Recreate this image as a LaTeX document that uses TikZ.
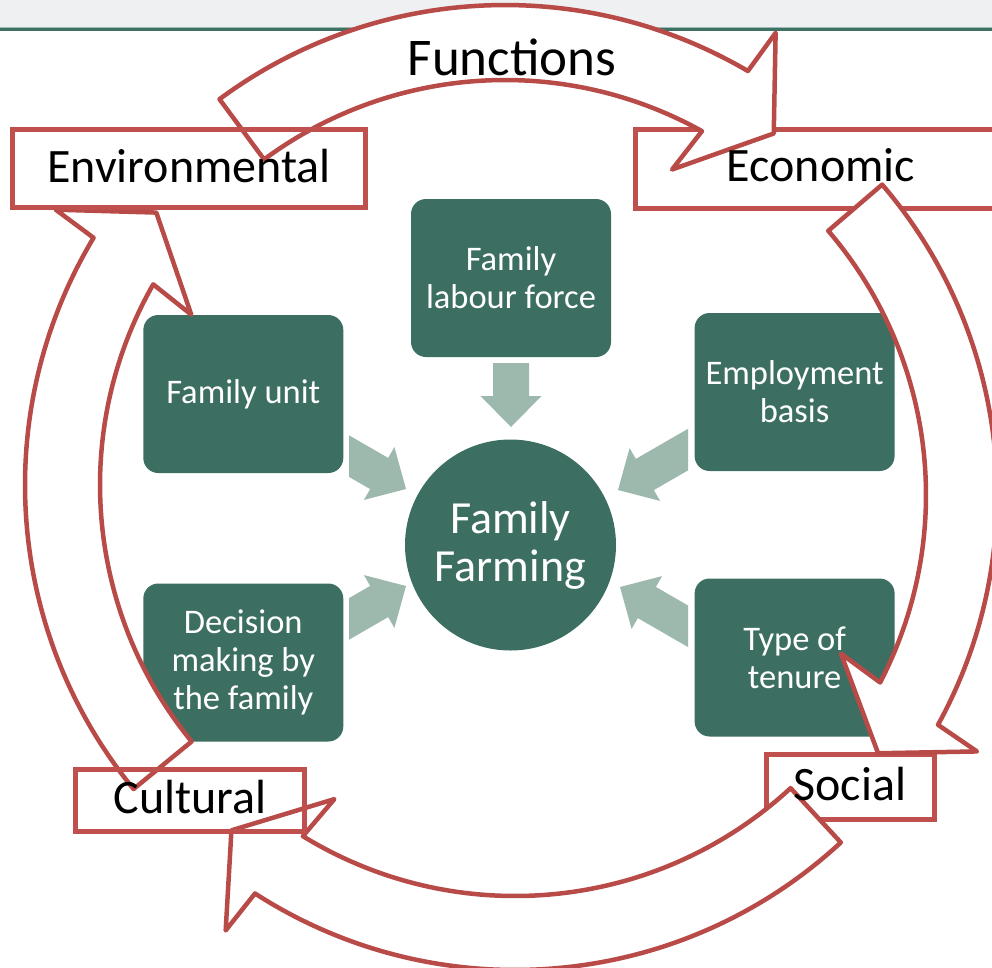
\documentclass[tikz,border=0pt]{standalone}
\usepackage{fontspec}
\setmainfont{Carlito}
\definecolor{ringred}{RGB}{184,74,71}
\definecolor{boxred}{RGB}{192,80,77}
\definecolor{boxgreen}{RGB}{60,111,98}
\definecolor{lightarrow}{RGB}{157,184,172}
\definecolor{bandgray}{RGB}{239,240,242}
\definecolor{bandline}{RGB}{61,113,100}
\definecolor{bandlight}{RGB}{160,185,178}
\tikzset{
  greenbox/.style={fill=boxgreen, rounded corners=15pt, minimum width=200pt, minimum height=158pt,
    text=white, align=center, font=\fontsize{34.5}{38}\selectfont, inner sep=0pt, outer sep=0pt},
  hubnode/.style={circle, fill=boxgreen, minimum size=211pt, text=white, align=center,
    font=\fontsize{46}{48}\selectfont, inner sep=0pt, outer sep=0pt},
  labelfill/.style={fill=white, inner sep=0pt, outer sep=0pt},
  labelbox/.style={draw=boxred, line width=5pt, fill=white, inner sep=0pt, outer sep=0pt},
  labelline/.style={draw=boxred, line width=5pt},
  labeltext/.style={font=\fontsize{48}{56}\selectfont, text=black, inner sep=0pt, anchor=base},
  ringarrow/.style={draw=ringred, line width=4.5pt, fill=white, line join=round},
  feedarrow/.style={fill=lightarrow},
}
% cx, cy, outer radius, inner radius, tail angle, head angle (pixel angles, clockwise)
\newcommand{\RingArrow}[6]{%
  \begin{scope}[shift={(#1,#2)}]
    \draw[ringarrow] (#5:#3) arc[start angle=#5, end angle=#6, radius=#3]
      -- ({#6+0.5}:{#3+47}) -- ({#6+7}:{(#3+#4)/2}) -- ({#6-2.5}:{#4-48})
      -- ({#6-1.3}:#4) arc[start angle={#6-1.3}, end angle=#5, radius=#4] -- cycle;
  \end{scope}}
% tip x, tip y, direction angle
\newcommand{\FeedArrow}[3]{%
  \begin{scope}[shift={(#1,#2)}, rotate=#3]
    \fill[feedarrow] (0,0) -- (-31,30.5) -- (-31,18) -- (-100,18) -- (-100,-18)
      -- (-31,-18) -- (-31,-30.5) -- cycle;
  \end{scope}}
\begin{document}
\begin{tikzpicture}[x=1pt,y=1pt,yscale=-1]
\useasboundingbox (0,0) rectangle (992,967);
\clip (0,0) rectangle (992,967);
% header band
\fill[bandgray] (0,0) rectangle (992,27);
\fill[bandlight] (0,26.5) rectangle (992,28);
\fill[bandline] (0,28) rectangle (992,31);

% green boxes and hub
\node[greenbox] (labour) at (511,278) {Family\\labour force};
\node[greenbox] (unit) at (243.3,394) {Family unit};
\node[greenbox] (employ) at (794.6,392) {Employment\\basis};
\node[greenbox] (decision) at (243.3,662.5) {Decision\\making by\\the family};
\node[greenbox] (tenure) at (794.6,657.5) {Type of\\tenure};
\node[hubnode] (hub) at (510.5,545) {Family\\Farming};

% feed arrows
\begin{scope}
  \clip (0,363) rectangle (992,967);
  \FeedArrow{511}{427}{90}
\end{scope}
\begin{scope}
  \clip (349,0) rectangle (500,967);
  \FeedArrow{406}{489}{30}
  \FeedArrow{406}{586}{-30}
\end{scope}
\begin{scope}
  \clip (520,0) rectangle (688,967);
  \FeedArrow{618}{490}{150}
  \FeedArrow{620}{587}{210}
\end{scope}

% label boxes (under arrows)
\node[labelbox, minimum width=376pt, minimum height=79pt] (econ) at (823.5,169) {};
\node[labelbox, minimum width=167.5pt, minimum height=65pt] (soc) at (850.3,787) {};
\node[labelfill, minimum width=353pt, minimum height=78pt] (env) at (189,168.5) {};
\node[labelfill, minimum width=229pt, minimum height=62pt] (cult) at (189.5,800.5) {};

% ring arrows
\RingArrow{505}{485}{480}{405}{233.5}{300.4}
\RingArrow{520}{495}{477}{406}{319.4}{388.8}
\RingArrow{515}{490}{480}{406}{47.25}{122.8}
\RingArrow{505}{485}{480}{405}{140.7}{211}

% borders above arrows
\draw[labelline] (env.north west) rectangle (env.south east);
\draw[labelline] (cult.north west) rectangle (cult.south east);

% texts
\node[labeltext, font=\fontsize{53}{60}\selectfont] (ftxt) at (512,75) {Functions};
\node[labeltext] (envt) at (189,182) {Environmental};
\node[labeltext] (econt) at (821,181) {Economic};
\node[labeltext] (cultt) at (190,813) {Cultural};
\node[labeltext] (soct) at (850,800) {Social};
\end{tikzpicture}
\end{document}
